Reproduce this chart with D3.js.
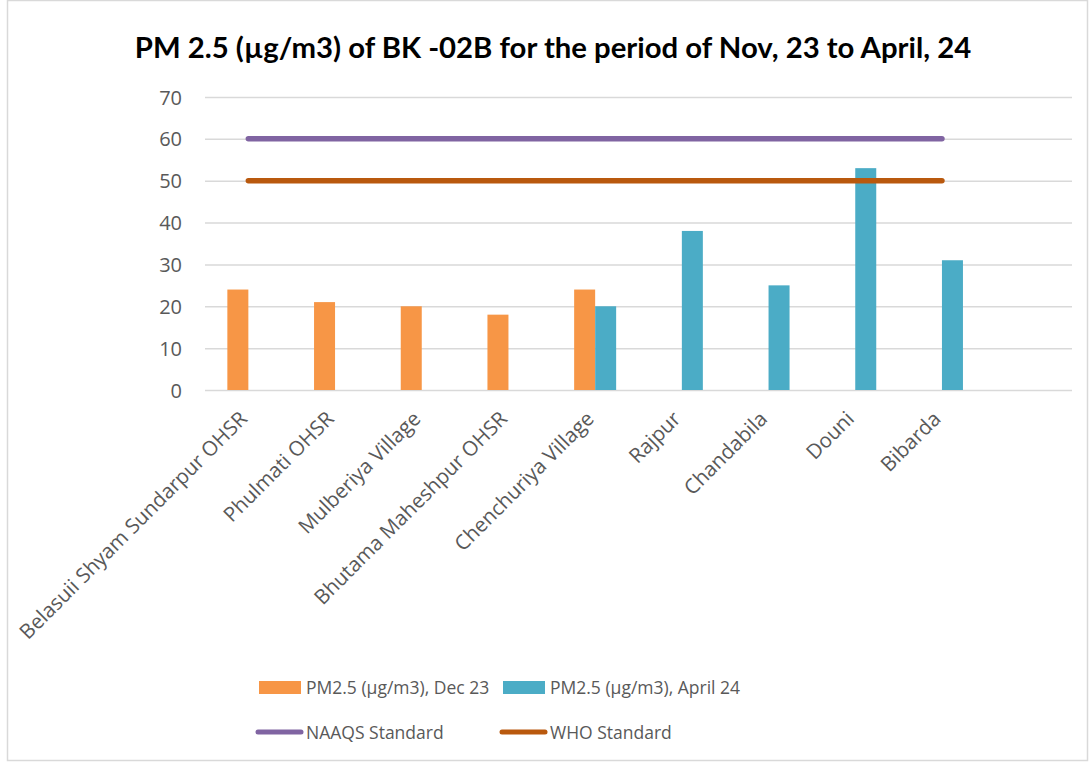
<!DOCTYPE html>
<html>
<head>
<meta charset="utf-8">
<script src="https://cdn.jsdelivr.net/npm/d3@7/dist/d3.min.js"></script>
<style>
  body { margin: 0; background: #fff; }
  svg { display: block; font-family: "Open Sans", "Noto Sans", sans-serif; }
</style>
</head>
<body>
<div id="chart"></div>
<script>
document.addEventListener("DOMContentLoaded", () => {

    // Data
    const categories = ["Belasuii Shyam Sundarpur OHSR", "Phulmati OHSR", "Mulberiya Village",
        "Bhutama Maheshpur OHSR", "Chenchuriya Village", "Rajpur", "Chandabila", "Douni", "Bibarda", ""];
    const dec23 = [24, 21, 20, 18, 24, null, null, null, null, null];
    const april24 = [null, null, null, null, 20, 38, 25, 53, 31, null];
    const naaqs = [60, 60, 60, 60, 60, 60, 60, 60, 60, null];
    const who = [50, 50, 50, 50, 50, 50, 50, 50, 50, null];
    const yTicks = [0, 10, 20, 30, 40, 50, 60, 70];

    const barKeys = ["PM2.5 (µg/m3), Dec 23", "PM2.5 (µg/m3), April 24"];
    const barColors = ["#F79646", "#4BACC6"];
    const lineColors = { naaqs: "#8064A2", who: "#B9590E" };

    const W = 1090, H = 764;
    const margin = { top: 97, left: 205, right: 18, bottom: 374 };
    const width = W - margin.left - margin.right;
    const height = H - margin.top - margin.bottom;
    const font = "'Open Sans', 'Noto Sans', sans-serif";

    const svg = d3.select("#chart").append("svg")
        .attr("width", W).attr("height", H);

    // outer chart border
    svg.append("rect").attr("x", 7.5).attr("y", 0.5).attr("width", W - 10).attr("height", H - 4)
        .attr("fill", "none").attr("stroke", "#d9d9d9").attr("stroke-width", 1.5);

    svg.append("text")
        .attr("x", 553).attr("y", 58)
        .attr("text-anchor", "middle")
        .style("font-family", "Lato, sans-serif")
        .style("font-weight", "700")
        .style("font-size", "29.3px")
        .style("fill", "#000")
        .text("PM 2.5 (µg/m3) of BK -02B for the period of Nov, 23 to April, 24");

    const g = svg.append("g").attr("transform", `translate(${margin.left},${margin.top})`);

    const x = d3.scaleBand().domain(d3.range(categories.length)).range([0, width]);
    const y = d3.scaleLinear().domain([0, 70]).range([height, 0]);
    const barW = 21;
    const xSub = d3.scaleBand().domain([0, 1]).range([x.bandwidth() / 2 - barW, x.bandwidth() / 2 + barW]);

    // gridlines + y labels
    g.append("g")
        .call(d3.axisLeft(y).tickValues(yTicks).tickSize(-width).tickPadding(23))
        .call(a => a.select(".domain").remove())
        .call(a => a.selectAll(".tick line").attr("stroke", "#d9d9d9").attr("stroke-width", 1.5))
        .call(a => a.selectAll(".tick text")
            .style("font-family", font).style("font-size", "20px").style("fill", "#595959")
            .attr("dy", "0.35em"));

    // bars
    [dec23, april24].forEach((series, s) => {
        g.append("g").selectAll("rect")
            .data(series.map((v, i) => ({ v, i })).filter(d => d.v != null))
            .enter().append("rect")
            .attr("x", d => x(d.i) + xSub(s))
            .attr("y", d => y(d.v))
            .attr("width", xSub.bandwidth())
            .attr("height", d => y(0) - y(d.v))
            .attr("fill", barColors[s]);
    });

    // standard lines
    const line = d3.line()
        .defined(d => d != null)
        .x((d, i) => x(i) + x.bandwidth() / 2)
        .y(d => y(d));
    [[naaqs, lineColors.naaqs], [who, lineColors.who]].forEach(([series, c]) => {
        g.append("path").datum(series)
            .attr("d", line)
            .attr("fill", "none").attr("stroke", c)
            .attr("stroke-width", 5.5).attr("stroke-linecap", "round");
    });

    // category labels
    g.append("g").selectAll("text")
        .data(categories)
        .enter().append("text")
        .attr("transform", (d, i) => `translate(${x(i) + x.bandwidth() / 2 - 5},${height + 25}) rotate(-45)`)
        .attr("text-anchor", "end")
        .attr("dy", "0.35em")
        .style("font-family", font)
        .style("font-size", "20.5px")
        .style("fill", "#595959")
        .text(d => d);

    // legend
    const legend = svg.append("g").style("font-family", font).style("font-size", "17.5px");
    const legendBars = [[259, 0], [503, 1]];
    legendBars.forEach(([lx, s]) => {
        legend.append("rect").attr("x", lx).attr("y", 681).attr("width", 42).attr("height", 13).attr("fill", barColors[s]);
        legend.append("text").attr("x", lx + 47).attr("y", 694).style("fill", "#595959").text(barKeys[s]);
    });
    const legendLines = [[258, lineColors.naaqs, "NAAQS Standard"], [502, lineColors.who, "WHO Standard"]];
    legendLines.forEach(([lx, c, label]) => {
        legend.append("line").attr("x1", lx).attr("x2", lx + 43).attr("y1", 732).attr("y2", 732)
            .attr("stroke", c).attr("stroke-width", 5).attr("stroke-linecap", "round");
        legend.append("text").attr("x", lx + 48).attr("y", 739).style("fill", "#595959").text(label);
    });
});
</script>
</body>
</html>
